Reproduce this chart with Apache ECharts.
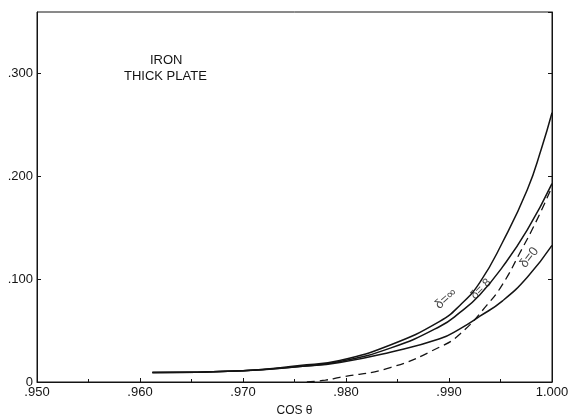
<!DOCTYPE html>
<html>
<head>
<meta charset="utf-8">
<script src="https://cdn.jsdelivr.net/npm/echarts@6/dist/echarts.min.js"></script>
<style>
html,body{margin:0;padding:0;background:#fff;}
#c{width:568px;height:415px;}
</style>
</head>
<body>
<div id="c"></div>
<script>
// x = cos θ
const xInf = [0.9612, 0.9700, 0.9755, 0.9794, 0.9843, 0.9891, 0.9911, 0.9930, 0.9952, 0.9976, 0.9990, 1.0000];
const yInf = [0.0092, 0.0110, 0.0160, 0.0210, 0.0360, 0.0590, 0.0750, 0.0970, 0.1360, 0.1870, 0.2280, 0.2620];

const xP8 = [0.9612, 0.9700, 0.9755, 0.9794, 0.9843, 0.9891, 0.9911, 0.9930, 0.9952, 0.9976, 1.0000];
const yP8 = [0.0092, 0.0110, 0.0150, 0.0200, 0.0330, 0.0540, 0.0680, 0.0850, 0.1120, 0.1480, 0.1930];

const xZero = [0.9612, 0.9700, 0.9755, 0.9794, 0.9843, 0.9891, 0.9911, 0.9930, 0.9952, 0.9976, 1.0000];
const yZero = [0.0092, 0.0110, 0.0150, 0.0190, 0.0290, 0.0420, 0.0520, 0.0640, 0.0790, 0.1020, 0.1330];

const xDash = [0.9762, 0.9780, 0.9794, 0.9843, 0.9891, 0.9911, 0.9937, 0.9952, 0.9969, 0.9985, 1.0000];
const yDash = [0.0000, 0.0018, 0.0045, 0.0140, 0.0340, 0.0470, 0.0750, 0.0950, 0.1260, 0.1570, 0.1900];

const curveLabels = ['δ=∞', 'δ=.8', 'δ=0'];
const labelX = [0.9897, 0.9931, 0.9978];
const labelY = [0.0810, 0.0905, 0.1210];
const labelRot = [42, 45, 52];
const labelSize = [13, 12, 13];

const xTickLabels = ['.950', '.960', '.970', '.980', '.990', '1.000'];
const yTickLabels = ['0', '.100', '.200', '.300'];
const titleLines = ['IRON', 'THICK PLATE'];
const xAxisName = 'COS θ';

const FONT = 'Liberation Sans';
const INK = '#141414';

function pairs(xs, ys) { return xs.map((x, i) => [x, ys[i]]); }

function xFmt(v) {
  const idx = Math.round((v - 0.95) / 0.01);
  if (Math.abs(v - (0.95 + idx * 0.01)) > 1e-6) return '';
  return xTickLabels[idx] || '';
}
function yFmt(v) {
  const idx = Math.round(v / 0.1);
  if (Math.abs(v - idx * 0.1) > 1e-6) return '';
  return yTickLabels[idx] || '';
}

const lineStyleSolid = { color: INK, width: 1.5 };
const chart = echarts.init(document.getElementById('c'), null, { renderer: 'canvas' });

const option = {
  animation: false,
  backgroundColor: '#fff',
  grid: { left: 37, right: 16, top: 12, bottom: 33, containLabel: false, outerBoundsMode: 'none', show: true, borderColor: INK, borderWidth: 1 },
  graphic: [
    { type: 'text', left: 150, top: 54, style: { text: titleLines[0], font: '13px "' + FONT + '"', fill: INK } },
    { type: 'text', left: 124, top: 70, style: { text: titleLines[1], font: '13px "' + FONT + '"', fill: INK } }
  ],
  xAxis: [{
    type: 'value', min: 0.95, max: 1.0, interval: 0.01,
    name: xAxisName, nameLocation: 'middle', nameGap: 23,
    nameTextStyle: { fontFamily: FONT, fontSize: 12, color: INK },
    axisLine: { show: true, lineStyle: { color: INK, width: 1 } },
    axisTick: { show: true, inside: true, length: 4, lineStyle: { color: INK } },
    minorTick: { show: true, splitNumber: 2, length: 3, lineStyle: { color: INK } },
    axisLabel: { formatter: xFmt, fontFamily: FONT, fontSize: 13, color: INK, margin: 4 },
    splitLine: { show: false }
  }],
  yAxis: [{
    type: 'value', min: 0, max: 0.36, interval: 0.1,
    axisLine: { show: true, lineStyle: { color: INK, width: 1 } },
    axisTick: { show: true, inside: true, length: 4, lineStyle: { color: INK } },
    axisLabel: { formatter: yFmt, fontFamily: FONT, fontSize: 13, color: INK, margin: 4, showMaxLabel: false },
    splitLine: { show: false }
  }, {
    type: 'value', min: 0, max: 0.36, interval: 0.1, position: 'right',
    axisLine: { show: true, lineStyle: { color: INK, width: 1 } },
    axisTick: { show: true, inside: true, length: 4, lineStyle: { color: INK } },
    axisLabel: { show: false },
    splitLine: { show: false }
  }],
  series: [
    { type: 'line', data: pairs(xInf, yInf), showSymbol: false, smooth: 0.5, lineStyle: lineStyleSolid },
    { type: 'line', data: pairs(xP8, yP8), showSymbol: false, smooth: 0.5, lineStyle: lineStyleSolid },
    { type: 'line', data: pairs(xZero, yZero), showSymbol: false, smooth: 0.5, lineStyle: lineStyleSolid },
    { type: 'line', data: pairs(xDash, yDash), showSymbol: false, smooth: 0.5, lineStyle: { color: INK, width: 1.3, type: [8, 5] } },
    {
      type: 'scatter', symbolSize: 0, silent: true,
      data: curveLabels.map((t, i) => ({
        value: [labelX[i], labelY[i]],
        label: { show: true, position: 'inside', formatter: t, rotate: labelRot[i], fontFamily: FONT, fontSize: labelSize[i], color: INK }
      }))
    }
  ]
};
chart.setOption(option);
</script>
</body>
</html>
